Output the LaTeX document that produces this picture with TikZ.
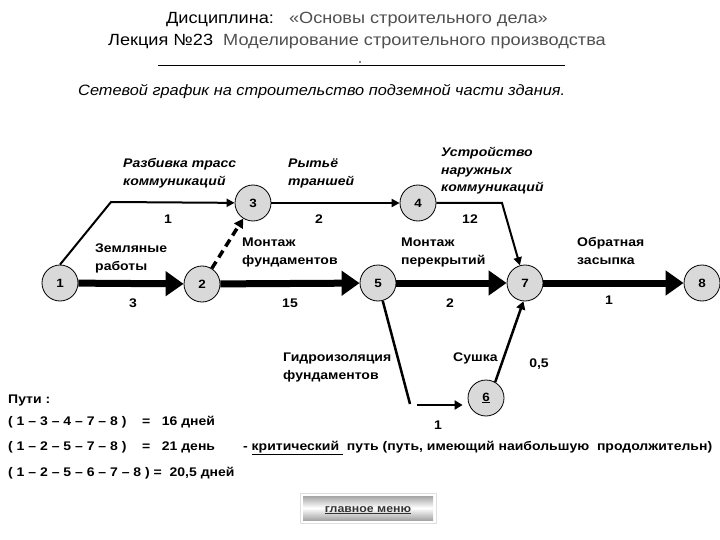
\documentclass[tikz,border=0pt]{standalone}
\usepackage{fontspec}
\setmainfont{Liberation Sans}
\newfontfamily\bodyf{Liberation Sans}[FakeStretch=1.12]
\newfontfamily\titlef{Liberation Sans}[FakeStretch=1.12]
\newfontfamily\subf{Liberation Sans}[FakeStretch=1.09]
\usetikzlibrary{arrows.meta}
\definecolor{evgray}{HTML}{D9D9D9}
\definecolor{titlegray}{HTML}{505050}
\tikzset{
  ev/.style={circle, draw=black, line width=0.8pt, fill=evgray, minimum size=36pt, inner sep=0pt,
    font=\bodyf\bfseries\fontsize{12}{14}\selectfont},
  lbl/.style={inner sep=0pt, anchor=base west, align=left,
    font=\bodyf\bfseries\fontsize{12.5}{18}\selectfont},
  ilbl/.style={inner sep=0pt, anchor=base west, align=left,
    font=\bodyf\bfseries\itshape\fontsize{12.5}{18}\selectfont},
  num/.style={inner sep=0pt, anchor=base, font=\bodyf\bfseries\fontsize{12.5}{14}\selectfont},
  thickarr/.style={line width=7pt, -{Triangle[length=18pt,width=24pt]}},
  thinarr/.style={line width=2pt, -{Triangle[length=8pt,width=8pt]}},
  dasharr/.style={line width=3.5pt, dash pattern=on 8pt off 5pt, -{Triangle[length=9pt,width=10pt]}},
}
\begin{document}
\begin{tikzpicture}[x=1pt,y=-1pt]
\useasboundingbox (0,0) rectangle (720,540);
\fill[white] (0,0) rectangle (720,540);
% titles
\node[inner sep=0pt, anchor=base, font=\titlef\fontsize{16.2}{18}\selectfont] (t1) at (357,24)
  {Дисциплина:\ \ \ {\color{titlegray}«Основы строительного дела»}};
\node[inner sep=0pt, anchor=base, font=\titlef\fontsize{16.2}{18}\selectfont] (t2) at (357,46)
  {Лекция №23\ \ {\color{titlegray}Моделирование строительного производства}};
\draw[line width=0.8pt] (158,65) -- (565,65);
\fill (360,62) circle (0.8);
\node[inner sep=0pt, anchor=base west, font=\subf\itshape\fontsize{15}{18}\selectfont] (sub) at (78,96)
  {Сетевой график на строительство подземной части здания.};
% events
\node[ev] (n1) at (60,283) {1};
\node[ev] (n2) at (202,284) {2};
\node[ev] (n3) at (253,203) {3};
\node[ev] (n4) at (418,203) {4};
\node[ev] (n5) at (378,283) {5};
\node[ev] (n6) at (486,398) {\underline{6}};
\node[ev] (n7) at (525,283) {7};
\node[ev] (n8) at (702,283) {8};
\coordinate (b13) at (111,202);
\coordinate (b47) at (502,203);
\coordinate (b56) at (410,404);
\coordinate (b56s) at (417,405);
% connectors
\draw[thinarr] (n1.north) -- (b13) -- (n3);
\draw[thinarr] (n3) -- (n4);
\draw[thinarr] (n4) -- (b47) -- (n7);
\draw[dasharr] (n2) -- (n3);
\draw[thickarr] (n1) -- (n2);
\draw[thickarr] (n2) -- (n5);
\draw[thickarr] (n5) -- (n7);
\draw[thickarr] (n7) -- (n8);
\draw[line width=2.5pt] (n5) -- (b56);
\draw[line width=2.5pt, -{Triangle[length=8pt,width=9pt]}, shorten >=5pt] (b56s) -- (b56s -| n6.west);
\draw[line width=2.5pt, -{Triangle[length=8pt,width=9pt]}] (n6.60) -- (n7.265);
% activity labels (base = last line baseline)
\node[ilbl] (l13) at (123,186) {Разбивка трасс\\коммуникаций};
\node[ilbl] (l34) at (288,186) {Рытьё\\траншей};
\node[ilbl, font=\bodyf\bfseries\itshape\fontsize{12.5}{17.5}\selectfont] (l47) at (441,191.5) {Устройство\\наружных\\коммуникаций};
\node[lbl] (l12) at (95,270) {Земляные\\работы};
\node[lbl] (l25) at (242,264) {Монтаж\\фундаментов};
\node[lbl] (l57) at (401,264) {Монтаж\\перекрытий};
\node[lbl] (l78) at (577,264) {Обратная\\засыпка};
\node[lbl] (l56) at (283,379) {Гидроизоляция\\фундаментов};
\node[lbl] (l67) at (453,361) {Сушка};
% durations
\node[num] (d13) at (168,224) {1};
\node[num] (d34) at (319,224) {2};
\node[num] (d47) at (470,224) {12};
\node[num] (d12) at (133,307) {3};
\node[num] (d25) at (290,307) {15};
\node[num] (d57) at (450,307) {2};
\node[num] (d78) at (609,304) {1};
\node[num] (d67) at (539,367) {0,5};
\node[num] (d56) at (438,429) {1};
% paths
\node[lbl] (p0) at (8,403) {Пути :};
\node[lbl] (p1) at (8,425) {( 1 – 3 – 4 – 7 – 8 )\ \ \ \ =\ \ \ 16 дней};
\node[lbl] (p2) at (8,450) {( 1 – 2 – 5 – 7 – 8 )\ \ \ \ =\ \ \ 21 день};
\node[lbl] (p3) at (8,476) {( 1 – 2 – 5 – 6 – 7 – 8 )\ =\ \ 20,5 дней};
\node[lbl] (crit) at (243,450) {- \underline{критический\ } путь (путь, имеющий наибольшую\ \ продолжительн)};
% button
\draw[gray!25, line width=1pt] (300,493) rectangle (436,523);
\shade[top color=gray!70, bottom color=gray!70, middle color=white] (303,496) rectangle (433,520);
\node[inner sep=0pt, anchor=base, text=black!80, font=\bodyf\bfseries\fontsize{11}{13}\selectfont] (menu) at (368,512) {\underline{главное меню}};
\end{tikzpicture}
\end{document}
